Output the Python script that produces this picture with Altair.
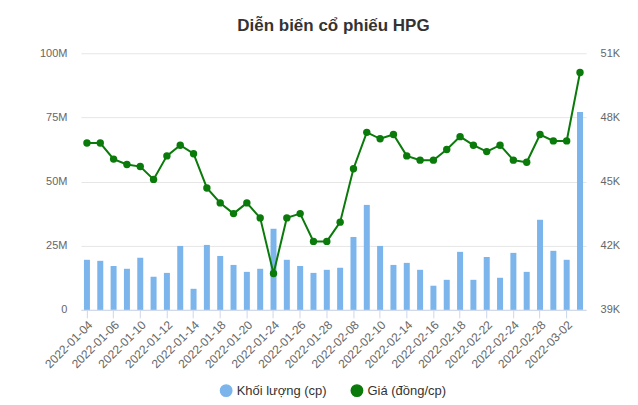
import altair as alt
import pandas as pd

dates = ["2022-01-04","2022-01-05","2022-01-06","2022-01-07","2022-01-10","2022-01-11",
         "2022-01-12","2022-01-13","2022-01-14","2022-01-17","2022-01-18","2022-01-19",
         "2022-01-20","2022-01-21","2022-01-24","2022-01-25","2022-01-26","2022-01-27",
         "2022-01-28","2022-02-07","2022-02-08","2022-02-09","2022-02-10","2022-02-11",
         "2022-02-14","2022-02-15","2022-02-16","2022-02-17","2022-02-18","2022-02-21",
         "2022-02-22","2022-02-23","2022-02-24","2022-02-25","2022-02-28","2022-03-01",
         "2022-03-02","2022-03-03"]

volume_m = [19.5, 19.1, 17.1, 16.0, 20.3, 12.9, 14.4, 24.9, 8.2, 25.3, 21.0, 17.5,
            14.8, 16.0, 31.6, 19.5, 17.1, 14.4, 15.6, 16.4, 28.4, 40.9, 24.9, 17.5,
            18.3, 15.6, 9.4, 11.7, 22.6, 11.7, 20.6, 12.5, 22.2, 14.8, 35.1, 23.0,
            19.5, 77.1]

price = [46800, 46800, 46050, 45800, 45700, 45100, 46200, 46700, 46300, 44700, 44000,
         43500, 44000, 43300, 40700, 43300, 43500, 42200, 42200, 43100, 45600, 47300,
         47000, 47200, 46200, 46000, 46000, 46500, 47100, 46700, 46400, 46700, 46000,
         45900, 47200, 46900, 46900, 50100]

tick_labels = dates[::2]

VOL = "Khối lượng (cp)"
PRICE = "Giá (đồng/cp)"

df = pd.DataFrame({"date": dates, "vol": volume_m, "price": price})

FONT = "Liberation Sans"
LABEL_COLOR = "#666666"

base = alt.Chart(df).encode(
    x=alt.X("date:O", sort=None, title=None,
            scale=alt.Scale(paddingInner=0.55, paddingOuter=0.23),
            axis=alt.Axis(values=tick_labels, labelAngle=-45, labelAlign="right",
                          labelBaseline="top", labelFontSize=12, labelColor=LABEL_COLOR,
                          labelFont=FONT, domainColor="#ccd6eb", tickColor="#ccd6eb",
                          tickSize=8, labelPadding=1, grid=False))
)

color_scale = alt.Scale(domain=[VOL, PRICE], range=["#7cb5ec", "#0a7a0a"])

bars = base.mark_bar().encode(
    y=alt.Y("vol:Q", title=None,
            scale=alt.Scale(domain=[0, 100], nice=False),
            axis=alt.Axis(orient="left", values=[0, 25, 50, 75, 100],
                          labelExpr="datum.value == 0 ? '0' : datum.value + 'M'",
                          ticks=False, domain=False, labelPadding=14,
                          labelFontSize=11, labelColor=LABEL_COLOR, labelFont=FONT,
                          gridColor="#e6e6e6")),
    color=alt.Color("s:N", scale=color_scale,
                    legend=alt.Legend(title=None, orient="none", direction="horizontal",
                                      legendX=139, legendY=331,
                                      symbolType="circle", symbolSize=130,
                                      labelFontSize=13, labelColor="#333333",
                                      labelFont=FONT, columnPadding=20))
).transform_calculate(s=f"'{VOL}'")

line = base.mark_line(strokeWidth=2, point=alt.OverlayMarkDef(filled=True, size=55)).encode(
    y=alt.Y("price:Q", title=None,
            scale=alt.Scale(domain=[39000, 51000], nice=False),
            axis=alt.Axis(orient="right", values=[39000, 42000, 45000, 48000, 51000],
                          labelExpr="(datum.value / 1000) + 'K'",
                          ticks=False, domain=False, labelPadding=14, grid=False,
                          labelFontSize=11, labelColor=LABEL_COLOR, labelFont=FONT)),
    color=alt.Color("s:N", scale=color_scale)
).transform_calculate(s=f"'{PRICE}'")

chart = alt.layer(bars, line).resolve_scale(y="independent").properties(
    width=506, height=257,
    padding={"left": 31, "right": 10, "top": 9, "bottom": 5},
    title=alt.TitleParams("Diễn biến cổ phiếu HPG", fontSize=17, font=FONT,
                          fontWeight="bold", color="#333333", offset=12, anchor="middle")
).configure_view(stroke=None)

chart.save("out.html", embed_options={"renderer": "svg", "actions": False})
